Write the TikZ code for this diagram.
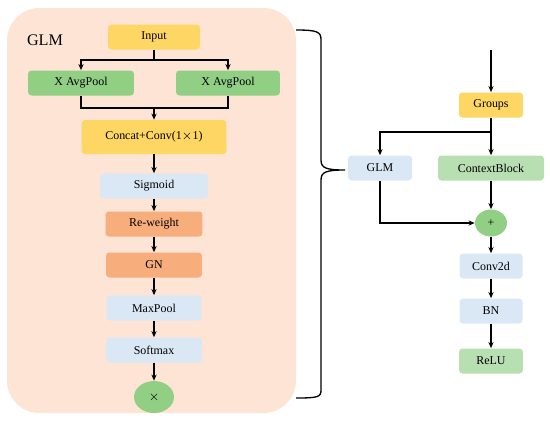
\documentclass[tikz,border=0pt]{standalone}
\usepackage{fontspec}
\setmainfont{Liberation Serif}
\usetikzlibrary{arrows.meta, positioning, shapes.geometric}
\definecolor{glmbg}{HTML}{FDE4D5}
\definecolor{ylw}{HTML}{FDD663}
\definecolor{grn}{HTML}{91CF85}
\definecolor{lgrn}{HTML}{B8DFB1}
\definecolor{blu}{HTML}{DAE8F5}
\definecolor{org}{HTML}{F7AD7C}

\begin{document}
\begin{tikzpicture}[x=0.02cm, y=-0.02cm,
    every node/.style={font=\fontsize{6.8}{8}\selectfont},
    blk/.style={rounded corners=2pt, minimum height=0.5cm, inner sep=1pt},
    yblk/.style={blk, fill=ylw},
    gblk/.style={blk, fill=grn},
    lgblk/.style={blk, fill=lgrn},
    bblk/.style={blk, fill=blu},
    oblk/.style={blk, fill=org},
    op/.style={ellipse, fill=grn, inner sep=0pt},
    ln/.style={line width=0.75pt},
    arr/.style={ln, -{Stealth[length=3.5pt,width=3pt]}}]
  \useasboundingbox (0,0) rectangle (550,420);

  % GLM module
  \fill[glmbg, rounded corners=0.65cm] (7,8) rectangle (296,413);
  \node[font=\fontsize{9.2}{11}\selectfont] (glmlabel) at (45,40) {GLM};
  \node[yblk, minimum width=1.84cm] (input) at (154,37) {Input};
  \node[gblk, minimum width=2.12cm] (pool1) at (81,83) {X AvgPool};
  \node[gblk, minimum width=2.08cm] (pool2) at (228,83) {X AvgPool};
  \node[yblk, minimum width=2.9cm, minimum height=0.68cm] (concat) at (154,137) {Concat+Conv(1$\times$1)};
  \node[bblk, minimum width=2.16cm] (sigmoid) at (154,186) {Sigmoid};
  \node[oblk, minimum width=1.94cm] (reweight) at (154,224) {Re-weight};
  \node[oblk, minimum width=1.92cm] (gn) at (154,265) {GN};
  \node[bblk, minimum width=1.9cm] (maxpool) at (154,308) {MaxPool};
  \node[bblk, minimum width=1.92cm] (softmax) at (154,350) {Softmax};
  \node[op, minimum width=0.8cm, minimum height=0.64cm] (mul) at (154,397) {$\times$};

  \coordinate (s1) at (154,60);
  \coordinate (s2) at (154,108);
  \draw[ln] (input) -- (s1);
  \draw[arr] (s1) -| (pool1);
  \draw[arr] (s1) -| (pool2);
  \draw[ln] (pool1) |- (s2);
  \draw[ln] (pool2) |- (s2);
  \draw[arr] (s2) -- (concat);
  \draw[arr] (concat) -- (sigmoid);
  \draw[arr] (sigmoid) -- (reweight);
  \draw[arr] (reweight) -- (gn);
  \draw[arr] (gn) -- (maxpool);
  \draw[arr] (maxpool) -- (softmax);
  \draw[arr] (softmax) -- (mul);

  % brace
  \draw[ln] (296,30) .. controls (318,30) and (321,32) .. (321,40) -- (321,160)
    .. controls (321,168) and (326,170) .. (345,170)
    .. controls (326,170) and (321,172) .. (321,180) -- (321,390)
    .. controls (321,397) and (318,398) .. (296,398);

  % right branch
  \coordinate (in) at (491,50);
  \node[yblk, minimum width=1.28cm] (groups) at (491,105) {Groups};
  \node[bblk, minimum width=1.28cm] (glm) at (380,168) {GLM};
  \node[lgblk, minimum width=2.12cm] (ctx) at (491,168) {ContextBlock};
  \node[op, minimum width=0.64cm, minimum height=0.54cm] (plus) at (491,223) {+};
  \node[bblk, minimum width=1.26cm] (conv) at (491,266) {Conv2d};
  \node[bblk, minimum width=1.26cm] (bn) at (491,311) {BN};
  \node[lgblk, minimum width=1.28cm] (relu) at (491,361) {ReLU};

  \coordinate (s3) at (491,132);
  \draw[arr] (in) -- (groups);
  \draw[ln] (groups) -- (s3);
  \draw[arr] (s3) -| (glm);
  \draw[arr] (s3) -- (ctx);
  \draw[arr] (ctx) -- (plus);
  \draw[arr] (glm) |- (plus);
  \draw[arr] (plus) -- (conv);
  \draw[arr] (conv) -- (bn);
  \draw[arr] (bn) -- (relu);
\end{tikzpicture}
\end{document}
